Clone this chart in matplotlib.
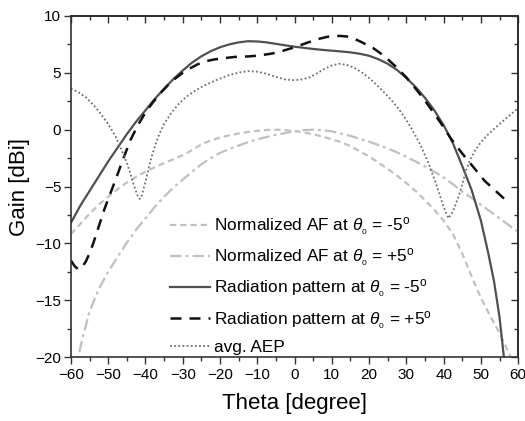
import numpy as np
import matplotlib
matplotlib.use('Agg')
import matplotlib.pyplot as plt
from matplotlib.ticker import MultipleLocator

plt.rcParams['font.family'] = ['Liberation Sans', 'DejaVu Sans']
plt.rcParams['mathtext.fontset'] = 'custom'
plt.rcParams['mathtext.rm'] = 'Liberation Sans'
plt.rcParams['mathtext.it'] = 'Liberation Sans:italic'

# Normalized AF at theta0 = -5
af_m5_theta = [-60, -57.5, -55, -52.5, -50, -47.5, -45, -42.5, -40, -37.5, -35, -32.5, -30, -27.5,
               -25, -22.5, -20, -17.5, -15, -12.5, -10, -7.5, -5, -2.5, 0, 2.5, 5, 7.5, 10, 12.5,
               15, 17.5, 20, 22.5, 25, 27.5, 30, 32.5, 35, 37.5, 40, 42.5, 45, 47.5, 50, 52.5,
               55, 57, 58, 59]
af_m5_gain = [-9.2, -8.3, -7.4, -6.6, -5.9, -5.25, -4.65, -4.15, -3.7, -3.3, -2.95, -2.6, -2.25,
              -1.8, -1.3, -0.95, -0.7, -0.5, -0.33, -0.2, -0.1, -0.03, 0.0, -0.04, -0.12, -0.25,
              -0.4, -0.6, -0.85, -1.1, -1.45, -1.9, -2.35, -2.9, -3.45, -4.05, -4.7, -5.4, -6.2,
              -7.05, -8.0, -9.2, -10.9, -12.9, -14.8, -16.4, -17.9, -19.3, -20.0, -20.8]

# Normalized AF at theta0 = +5
af_p5_theta = [-59, -58, -57, -55, -52.5, -50, -47.5, -45, -42.5, -40, -37.5, -35, -32.5, -30,
               -27.5, -25, -22.5, -20, -17.5, -15, -12.5, -10, -7.5, -5, -2.5, 0, 2.5, 5, 7.5,
               10, 12.5, 15, 17.5, 20, 22.5, 25, 27.5, 30, 32.5, 35, 37.5, 40, 42.5, 45, 47.5,
               50, 52.5, 55, 57.5, 60]
af_p5_gain = [-21.5, -20.0, -18.5, -16.0, -14.0, -12.5, -11.2, -9.95, -8.8, -7.8, -6.8, -5.9,
              -5.1, -4.4, -3.7, -3.05, -2.5, -2.05, -1.7, -1.4, -1.1, -0.85, -0.65, -0.45, -0.3,
              -0.15, -0.05, 0.0, -0.05, -0.15, -0.35, -0.55, -0.8, -1.05, -1.35, -1.65, -2.0,
              -2.4, -2.8, -3.25, -3.7, -4.2, -4.8, -5.45, -6.0, -6.6, -7.2, -7.8, -8.4, -9.0]

# Radiation pattern at theta0 = -5
rp_m5_theta = [-60, -57.5, -55, -52.5, -50, -47.5, -45, -42.5, -40, -37.5, -35, -32.5, -30,
               -27.5, -25, -22.5, -20, -17.5, -15, -12.5, -10, -7.5, -5, -2.5, 0, 2.5, 5, 7.5,
               10, 12.5, 15, 17.5, 20, 22.5, 25, 27.5, 30, 32.5, 35, 37.5, 40, 42.5, 45, 47.5,
               50, 52, 53.5, 55, 56, 56.5]
rp_m5_gain = [-8.2, -6.7, -5.4, -4.1, -2.8, -1.6, -0.4, 0.7, 1.7, 2.7, 3.6, 4.45, 5.2, 5.9,
              6.45, 6.9, 7.25, 7.5, 7.68, 7.78, 7.76, 7.68, 7.55, 7.42, 7.3, 7.2, 7.1, 7.02,
              6.95, 6.88, 6.8, 6.68, 6.5, 6.2, 5.8, 5.25, 4.55, 3.75, 2.8, 1.7, 0.4, -1.2, -3.2,
              -5.3, -8.0, -10.9, -13.3, -16.5, -19.5, -21.0]

# Radiation pattern at theta0 = +5
rp_p5_theta = [-60, -59, -58, -57, -56, -55, -54, -53, -52, -51, -50, -48, -46, -44, -42, -40,
               -38, -36, -34, -32, -30, -28, -26, -24, -22, -20, -16, -12, -9, -6, -3, 0, 3, 6,
               9, 12, 14, 16, 18, 21, 24, 27, 30, 33, 36, 39, 42, 45, 48, 51, 54, 57]
rp_p5_gain = [-11.5, -12.0, -12.3, -12.1, -11.6, -10.9, -10.0, -9.0, -8.0, -7.0, -6.1, -4.4,
              -2.6, -0.9, 0.4, 1.5, 2.4, 3.2, 3.9, 4.5, 5.0, 5.4, 5.75, 6.0, 6.15, 6.25, 6.4,
              6.45, 6.55, 6.7, 6.95, 7.25, 7.6, 7.95, 8.18, 8.25, 8.2, 8.0, 7.7, 7.2, 6.5, 5.6,
              4.6, 3.4, 2.1, 0.7, -0.8, -2.1, -3.3, -4.5, -5.4, -6.3]

# avg. AEP
aep_theta = [-60, -58, -56, -54, -52, -50, -48, -46.5, -45, -44, -43, -42, -41.5, -41, -40, -39,
             -38, -37, -36, -35, -33, -31, -29, -27, -25, -22.5, -20, -17.5, -15, -12.5, -10,
             -7.5, -5, -2.5, 0, 2, 4, 6, 8, 10, 12, 14, 16, 18, 20, 22, 24, 26, 28, 30, 32, 34,
             36, 38, 40, 41.3, 42.5, 44, 45, 46, 47, 48.5, 50, 52, 55, 57.5, 60]
aep_gain = [3.6, 3.3, 2.85, 2.2, 1.4, 0.5, -0.6, -1.7, -2.9, -3.9, -5.0, -5.9, -6.1, -5.8, -4.6,
            -3.2, -2.0, -1.0, -0.2, 0.5, 1.5, 2.3, 2.9, 3.35, 3.75, 4.15, 4.5, 4.8, 5.02, 5.15,
            5.1, 4.92, 4.65, 4.42, 4.35, 4.42, 4.6, 4.95, 5.35, 5.65, 5.8, 5.7, 5.45, 5.05, 4.55,
            3.95, 3.3, 2.6, 1.8, 0.85, -0.25, -1.5, -3.0, -4.8, -6.8, -7.8, -7.2, -5.9, -4.8,
            -3.6, -2.7, -1.8, -1.1, -0.4, 0.5, 1.2, 1.9]

labels = [r'Normalized AF at $\theta_{_0}$ = -5$^{\rm o}$',
          r'Normalized AF at $\theta_{_0}$ = +5$^{\rm o}$',
          r'Radiation pattern at $\theta_{_0}$ = -5$^{\rm o}$',
          r'Radiation pattern at $\theta_{_0}$ = +5$^{\rm o}$',
          'avg. AEP']

fig = plt.figure(figsize=(5.25, 4.21), dpi=100)
ax = fig.add_axes([0.135, 0.152, 0.852, 0.810])

ax.plot(af_m5_theta, af_m5_gain, color='#c0c0c0', lw=1.6, linestyle=(0, (2.8, 1.8)), label=labels[0])
ax.plot(af_p5_theta, af_p5_gain, color='#c0c0c0', lw=1.6, linestyle=(0, (5.2, 1.8, 1.3, 1.8)), label=labels[1])
ax.plot(rp_m5_theta, rp_m5_gain, color='#505050', lw=1.6, label=labels[2])
ax.plot(rp_p5_theta, rp_p5_gain, color='#111111', lw=1.8, linestyle=(0, (4.4, 3.2)), label=labels[3])
ax.plot(aep_theta, aep_gain, color='#707070', lw=1.3, linestyle=(0, (1, 1.3)), label=labels[4])

ax.set_xlim(-60, 60)
ax.set_ylim(-20, 10)
ax.xaxis.set_major_locator(MultipleLocator(10))
ax.xaxis.set_minor_locator(MultipleLocator(5))
ax.yaxis.set_major_locator(MultipleLocator(5))
ax.yaxis.set_minor_locator(MultipleLocator(2.5))
ax.tick_params(which='both', direction='out', labelsize=11, width=1.0, colors='#333333', labelcolor='black')
ax.tick_params(which='major', length=5)
ax.tick_params(which='minor', length=3)
ax.tick_params(axis='x', pad=3)
ax.tick_params(axis='y', pad=2)
for s in ax.spines.values():
    s.set_linewidth(1.2)
    s.set_color('#333333')

# mirror ticks on top/right pointing inward
axt = ax.secondary_xaxis('top')
axt.xaxis.set_major_locator(MultipleLocator(10))
axt.xaxis.set_minor_locator(MultipleLocator(5))
axt.tick_params(which='both', direction='in', labeltop=False, width=1.0, colors='#333333')
axt.tick_params(which='major', length=5)
axt.tick_params(which='minor', length=3)
axt.spines['top'].set_linewidth(1.2)
axr = ax.secondary_yaxis('right')
axr.yaxis.set_major_locator(MultipleLocator(5))
axr.yaxis.set_minor_locator(MultipleLocator(2.5))
axr.tick_params(which='both', direction='in', labelright=False, width=1.0, colors='#333333')
axr.tick_params(which='major', length=5)
axr.tick_params(which='minor', length=3)
axr.spines['right'].set_linewidth(1.2)

ax.set_xlabel('Theta [degree]', fontsize=16, labelpad=8)
ax.set_ylabel('Gain [dBi]', fontsize=16, labelpad=4)

ax.legend(loc='lower left', bbox_to_anchor=(0.217, 0.0), frameon=False, fontsize=12.4,
          handlelength=2.35, handletextpad=0.23, labelspacing=0.5, borderpad=0.1, borderaxespad=0)

fig.savefig('out.png', dpi=100)
